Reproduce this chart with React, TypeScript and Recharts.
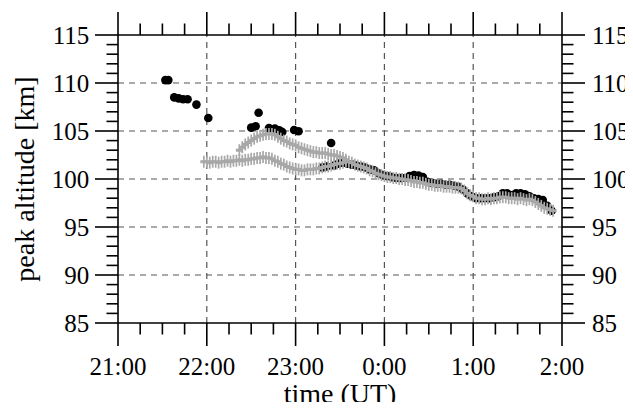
import React from 'react';
import { ScatterChart, Scatter, XAxis, YAxis, ReferenceLine, Label } from 'recharts';

// time in minutes after 21:00 UT
const timeMajorTicks = [0, 60, 120, 180, 240, 300];
const timeMajorLabels = ['21:00', '22:00', '23:00', '0:00', '1:00', '2:00'];
const timeMinorTicks = [15, 30, 45, 75, 90, 105, 135, 150, 165, 195, 210, 225, 255, 270, 285];
const altMajorTicks = [85, 90, 95, 100, 105, 110, 115];
const altMinorTicks = [86, 87, 88, 89, 91, 92, 93, 94, 96, 97, 98, 99, 101, 102, 103, 104, 106, 107, 108, 109, 111, 112, 113, 114];
const timeGrid = [60, 120, 180, 240];
const altGrid = [90, 95, 100, 105, 110];

// black dots
const blackTimes = [32, 34, 38, 41, 44, 47, 53, 61, 90, 93, 95, 102, 106, 109, 111, 119, 122, 144,
  138, 141, 146, 149, 152, 155, 158, 161, 164, 167, 170, 173, 176, 179, 182, 185, 188, 191, 194, 197,
  200, 203, 206, 209, 212, 215, 218, 221, 224, 227, 230, 233, 236, 239, 242, 245, 248, 251, 254, 257,
  260, 263, 266, 269, 272, 275, 278, 281, 284, 287, 290, 293];
const blackValues = [110.3, 110.3, 108.5, 108.4, 108.3, 108.3, 107.75, 106.35, 105.35, 105.5, 106.9, 105.3, 105.25, 105.07, 104.9, 105.1, 104.97, 103.75,
  101.2, 101.3, 101.4, 101.6, 101.7, 101.6, 101.5, 101.4, 101.3, 101.2, 101.0, 100.9, 100.6, 100.4, 100.3, 100.2, 100.1, 100.1, 100.1, 100.3,
  100.4, 100.35, 100.2, 99.7, 99.6, 99.5, 99.5, 99.4, 99.4, 99.3, 99.2, 98.9, 98.5, 98.2, 98.0, 98.0, 98.0, 98.0, 98.1, 98.2,
  98.5, 98.5, 98.3, 98.5, 98.5, 98.4, 98.2, 98.0, 97.9, 97.8, 97.2, 96.7];

// gray crosses: lower / merged track
const grayMainTimes = [58, 60, 62, 64, 66, 68, 70, 72, 74, 76, 78, 80, 82, 84, 86, 88, 90, 92, 94, 96, 98, 100,
  102, 104, 106, 108, 110, 112, 114, 116, 118, 120, 122, 124, 126, 128, 130, 132, 134, 136, 138, 140, 142, 144,
  146, 148, 150, 152, 154, 156, 158, 160, 162, 164, 166, 168, 170, 172, 174, 176, 178, 180, 182, 184, 186, 188,
  190, 192, 194, 196, 198, 200, 202, 204, 206, 208, 210, 212, 214, 216, 218, 220, 222, 224, 226, 228, 230, 232,
  234, 236, 238, 240, 242, 244, 246, 248, 250, 252, 254, 256, 258, 260, 262, 264, 266, 268, 270, 272, 274, 276,
  278, 280, 282, 284, 286, 288, 290, 292, 294];
const grayMainValues = [101.8, 101.8, 101.7, 101.8, 101.8, 101.7, 101.8, 101.8, 101.9, 101.8, 101.9, 101.9, 102.0, 101.9, 102.0, 102.0, 102.1, 102.1, 102.2, 102.2, 102.3, 102.2,
  102.2, 102.1, 101.9, 101.8, 101.6, 101.5, 101.3, 101.2, 101.1, 101.0, 101.0, 100.9, 100.9, 101.0, 101.0, 101.0, 101.1, 101.1, 101.2, 101.3, 101.3, 101.4,
  101.5, 101.6, 101.6, 101.7, 101.8, 101.8, 101.7, 101.5, 101.4, 101.3, 101.2, 101.1, 100.9, 100.8, 100.6, 100.5, 100.4, 100.3, 100.2, 100.2, 100.1, 100.1,
  100.0, 100.0, 99.9, 99.9, 99.8, 99.7, 99.7, 99.6, 99.6, 99.5, 99.4, 99.4, 99.3, 99.3, 99.3, 99.2, 99.2, 99.2, 99.1, 99.1, 99.1, 99.0,
  98.8, 98.5, 98.3, 98.2, 98.0, 98.0, 97.9, 97.9, 98.0, 97.9, 98.0, 98.0, 98.1, 98.1, 98.1, 98.0, 98.0, 98.0, 97.9, 98.0, 97.9, 97.8,
  97.9, 97.8, 97.6, 97.4, 97.2, 97.0, 96.9, 96.8, 96.7];

// gray crosses: upper track
const grayUpperTimes = [82, 84, 86, 88, 90, 92, 94, 96, 98, 100, 102, 104, 106, 108, 110, 112, 114, 116, 118, 120,
  122, 124, 126, 128, 130, 132, 134, 136, 138, 140, 142, 144, 146, 148, 150, 152, 154];
const grayUpperValues = [103.0, 103.3, 103.6, 103.8, 104.0, 104.2, 104.4, 104.5, 104.6, 104.7, 104.7, 104.7, 104.6, 104.4, 104.2, 104.0, 103.9, 103.7, 103.6, 103.5,
  103.3, 103.2, 103.1, 103.0, 102.9, 102.8, 102.8, 102.7, 102.7, 102.7, 102.6, 102.5, 102.5, 102.4, 102.3, 102.2, 102.0];

const blackData = blackTimes.map((t, i) => ({ t, v: blackValues[i] }));
const grayData = [
  ...grayMainTimes.map((t, i) => ({ t, v: grayMainValues[i] })),
  ...grayUpperTimes.map((t, i) => ({ t, v: grayUpperValues[i] })),
];

const allTimeTicks = [...timeMajorTicks, ...timeMinorTicks].sort((a, b) => a - b);
const allAltTicks = [...altMajorTicks, ...altMinorTicks].sort((a, b) => a - b);

const FONT = 'Liberation Serif, Tinos, Times New Roman, serif';
const MAJOR = 23;
const MINOR = 11.5;
const TW = 1.6;

const BottomTick = (p: any) => {
  const { x, y, payload } = p;
  const idx = timeMajorTicks.indexOf(payload.value);
  const major = idx >= 0;
  return (
    <g>
      <line x1={x} x2={x} y1={y} y2={y + (major ? MAJOR : MINOR)} stroke="#000" strokeWidth={TW} />
      {major && (
        <text x={x} y={y + 52} textAnchor="middle" fontSize={25} fontFamily={FONT} fill="#000">
          {timeMajorLabels[idx]}
        </text>
      )}
    </g>
  );
};

const TopTick = (p: any) => {
  const { x, y, payload } = p;
  const major = timeMajorTicks.includes(payload.value);
  return <line x1={x} x2={x} y1={y} y2={y - (major ? MAJOR : MINOR)} stroke="#000" strokeWidth={TW} />;
};

const LeftTick = (p: any) => {
  const { x, y, payload } = p;
  const major = altMajorTicks.includes(payload.value);
  return (
    <g>
      <line x1={x} x2={x - (major ? MAJOR : MINOR)} y1={y} y2={y} stroke="#000" strokeWidth={TW} />
      {major && (
        <text x={x - 28.7} y={y} dy="0.34em" textAnchor="end" fontSize={25} fontFamily={FONT} fill="#000">
          {payload.value}
        </text>
      )}
    </g>
  );
};

const RightTick = (p: any) => {
  const { x, y, payload } = p;
  const major = altMajorTicks.includes(payload.value);
  return (
    <g>
      <line x1={x} x2={x + (major ? MAJOR : MINOR)} y1={y} y2={y} stroke="#000" strokeWidth={TW} />
      {major && (
        <text x={x + 30} y={y} dy="0.34em" textAnchor="start" fontSize={25} fontFamily={FONT} fill="#000">
          {payload.value}
        </text>
      )}
    </g>
  );
};

const XTitle = (p: any) => {
  const vb = p.viewBox;
  return (
    <text x={vb.x + vb.width / 2} y={vb.y + 80} textAnchor="middle" fontSize={28} fontFamily={FONT} fill="#000">
      time (UT)
    </text>
  );
};

const YTitle = (p: any) => {
  const vb = p.viewBox;
  const cx = vb.x + 26.3;
  const cy = vb.y + vb.height / 2;
  return (
    <text x={cx} y={cy} transform={`rotate(-90, ${cx}, ${cy})`} textAnchor="middle" fontSize={28} fontFamily={FONT} fill="#000">
      peak altitude [km]
    </text>
  );
};

const Dot = (p: any) => <circle cx={p.cx} cy={p.cy} r={4.3} fill="#000" />;

const Cross = (p: any) => (
  <g>
    <line x1={p.cx} x2={p.cx} y1={p.cy - 6} y2={p.cy + 6} stroke="#a8a8a8" strokeWidth={1.7} />
    <line x1={p.cx - 3.5} x2={p.cx + 3.5} y1={p.cy} y2={p.cy} stroke="#a8a8a8" strokeWidth={3} />
  </g>
);

export default function App() {
  return (
    <div style={{ width: 625, height: 394, background: '#fff' }}>
      <ScatterChart width={625} height={402} margin={{ top: 0, right: 0, bottom: 0, left: 0 }}>
        <XAxis xAxisId="bottom" dataKey="t" type="number" orientation="bottom" domain={[0, 300]} allowDataOverflow
          ticks={allTimeTicks} interval={0} height={87} tickSize={0} tickMargin={0} tick={BottomTick}
          axisLine={{ stroke: '#000', strokeWidth: TW }}>
          <Label content={XTitle} />
        </XAxis>
        <XAxis xAxisId="top" dataKey="t" type="number" orientation="top" domain={[0, 300]} allowDataOverflow
          ticks={allTimeTicks} interval={0} height={27} tickSize={0} tickMargin={0} tick={TopTick}
          axisLine={{ stroke: '#000', strokeWidth: TW }} />
        <YAxis yAxisId="left" dataKey="v" type="number" orientation="left" domain={[85, 115]} allowDataOverflow
          ticks={allAltTicks} interval={0} width={110} tickSize={0} tickMargin={0} tick={LeftTick}
          axisLine={{ stroke: '#000', strokeWidth: TW }}>
          <Label content={YTitle} />
        </YAxis>
        <YAxis yAxisId="right" dataKey="v" type="number" orientation="right" domain={[85, 115]} allowDataOverflow
          ticks={allAltTicks} interval={0} width={71} tickSize={0} tickMargin={0} tick={RightTick}
          axisLine={{ stroke: '#000', strokeWidth: TW }} />
        {timeGrid.map((t) => (
          <ReferenceLine key={'tx' + t} x={t} xAxisId="bottom" yAxisId="left" stroke="#555" strokeWidth={1.2} strokeDasharray="6 5" />
        ))}
        {altGrid.map((v) => (
          <ReferenceLine key={'ay' + v} y={v} xAxisId="bottom" yAxisId="left" stroke="#555" strokeWidth={1.2} strokeDasharray="6 5" />
        ))}
        <Scatter data={blackData} xAxisId="bottom" yAxisId="left" shape={Dot} isAnimationActive={false} />
        <Scatter data={grayData} xAxisId="bottom" yAxisId="left" shape={Cross} isAnimationActive={false} />
      </ScatterChart>
    </div>
  );
}
